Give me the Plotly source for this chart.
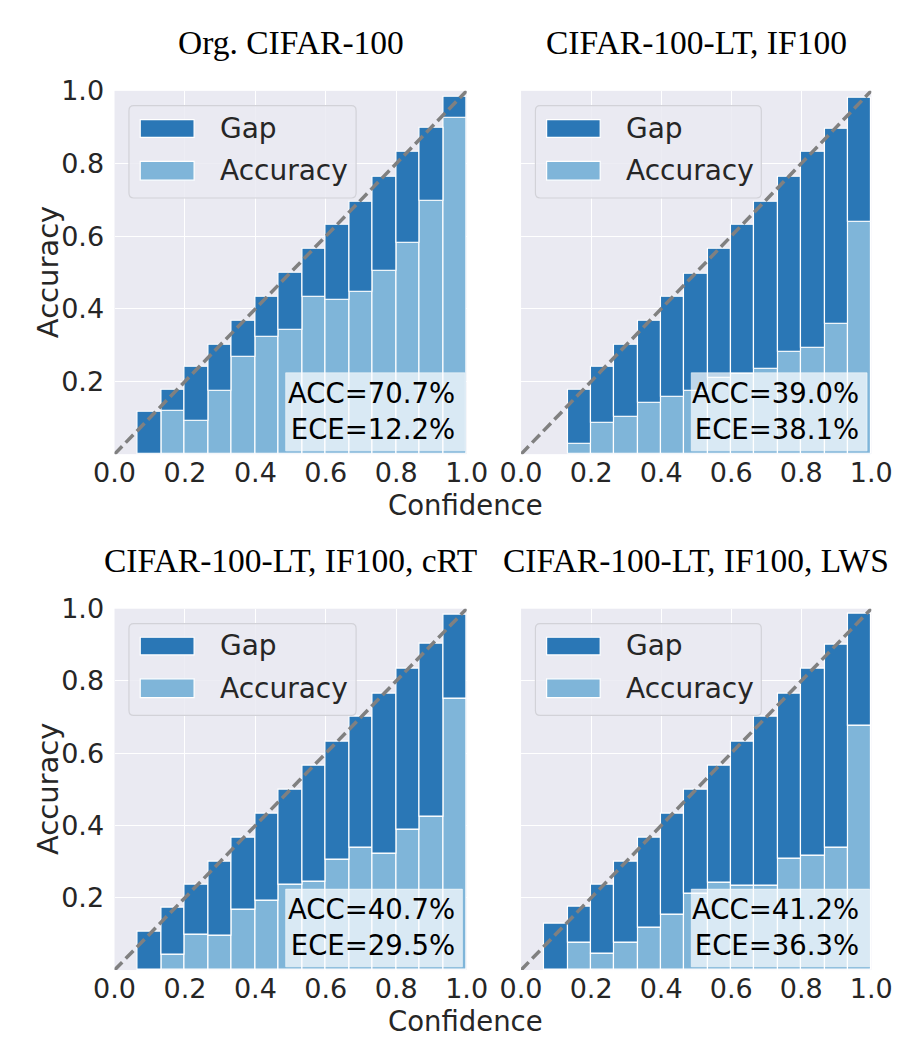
import plotly.graph_objects as go

# ---------------------------------------------------------------------------
# Reliability diagrams: 15 equal-width confidence bins per model
# ---------------------------------------------------------------------------
N_BINS = 15
bin_centers = [(i + 0.5) / N_BINS for i in range(N_BINS)]
bin_width = 1.0 / N_BINS

panel_titles = [
    "Org. CIFAR-100",
    "CIFAR-100-LT, IF100",
    "CIFAR-100-LT, IF100, cRT",
    "CIFAR-100-LT, IF100, LWS",
]

# Mean confidence per bin (None = empty bin)
conf_org = [None, 0.117, 0.176, 0.241, 0.302, 0.367, 0.432, 0.500, 0.565, 0.630, 0.695, 0.763, 0.831, 0.898, 0.984]
conf_lt = [None, None, 0.178, 0.240, 0.302, 0.367, 0.432, 0.496, 0.565, 0.630, 0.695, 0.763, 0.831, 0.896, 0.980]
conf_crt = [None, 0.107, 0.173, 0.235, 0.300, 0.365, 0.432, 0.500, 0.565, 0.631, 0.700, 0.765, 0.834, 0.903, 0.984]
conf_lws = [None, 0.129, 0.175, 0.235, 0.300, 0.365, 0.434, 0.500, 0.565, 0.631, 0.700, 0.765, 0.834, 0.900, 0.987]

# Accuracy per bin
acc_org = [None, 0.000, 0.119, 0.092, 0.174, 0.268, 0.322, 0.343, 0.432, 0.426, 0.448, 0.505, 0.581, 0.697, 0.927]
acc_lt = [None, None, 0.029, 0.086, 0.102, 0.142, 0.159, 0.174, 0.210, 0.220, 0.234, 0.281, 0.293, 0.358, 0.640]
acc_crt = [None, 0.000, 0.042, 0.098, 0.094, 0.166, 0.192, 0.236, 0.244, 0.305, 0.338, 0.323, 0.389, 0.425, 0.750]
acc_lws = [None, 0.000, 0.076, 0.046, 0.076, 0.116, 0.153, 0.212, 0.241, 0.233, 0.233, 0.307, 0.316, 0.338, 0.677]

# Overall accuracy and expected calibration error (%)
overall_acc = [70.7, 39.0, 40.7, 41.2]
overall_ece = [12.2, 38.1, 29.5, 36.3]

tick_vals = [0.0, 0.2, 0.4, 0.6, 0.8, 1.0]
tick_text = ["0.0", "0.2", "0.4", "0.6", "0.8", "1.0"]

confs = [conf_org, conf_lt, conf_crt, conf_lws]
accs = [acc_org, acc_lt, acc_crt, acc_lws]

# ---------------------------------------------------------------------------
# Styling
# ---------------------------------------------------------------------------
W, H = 919, 1037
GAP_COLOR = "#2a77b6"
ACC_COLOR = "#7fb5d9"
BG = "#EAEAF2"
TEXT = "#262626"
SANS = "DejaVu Sans"
SERIF = "Liberation Serif"

# Panel boxes in pixels: (left, right) per column, (top, bottom) per row
col_px = [(98, 467), (524, 891)]
row_px = [(76, 445), (602, 969)]


def px_x(p):
    return p / W


def px_y(p):
    return 1 - p / H


def rounded_rect(x0, y0, x1, y1, rad):
    """SVG path (paper coords) for a rounded rectangle given pixel corners."""
    X = px_x
    Y = px_y
    return (
        f"M{X(x0 + rad)},{Y(y0)} L{X(x1 - rad)},{Y(y0)} Q{X(x1)},{Y(y0)} {X(x1)},{Y(y0 + rad)} "
        f"L{X(x1)},{Y(y1 - rad)} Q{X(x1)},{Y(y1)} {X(x1 - rad)},{Y(y1)} "
        f"L{X(x0 + rad)},{Y(y1)} Q{X(x0)},{Y(y1)} {X(x0)},{Y(y1 - rad)} "
        f"L{X(x0)},{Y(y0 + rad)} Q{X(x0)},{Y(y0)} {X(x0 + rad)},{Y(y0)} Z"
    )


fig = go.Figure()
layout = dict(
    width=W,
    height=H,
    margin=dict(l=0, r=0, t=0, b=0),
    paper_bgcolor="white",
    plot_bgcolor=BG,
    barmode="overlay",
    bargap=0,
    showlegend=False,
    font=dict(family=SANS, color=TEXT),
)

shapes = []
annotations = []

for k in range(4):
    r, c = divmod(k, 2)
    sfx = "" if k == 0 else str(k + 1)
    xa, ya = "x" + sfx, "y" + sfx
    conf, acc = confs[k], accs[k]
    gap = [None if (cf is None or a is None) else cf - a for cf, a in zip(conf, acc)]

    fig.add_trace(go.Bar(
        x=bin_centers, y=acc, width=bin_width, name="Accuracy",
        marker=dict(color=ACC_COLOR, line=dict(color="white", width=1.2)),
        xaxis=xa, yaxis=ya, hoverinfo="skip",
    ))
    fig.add_trace(go.Bar(
        x=bin_centers, y=gap, base=acc, width=bin_width, name="Gap",
        marker=dict(color=GAP_COLOR, line=dict(color="white", width=1.2)),
        xaxis=xa, yaxis=ya, hoverinfo="skip",
    ))
    # perfect calibration diagonal
    fig.add_trace(go.Scatter(
        x=[0, 1], y=[0, 1], mode="lines",
        line=dict(color="#808080", width=3.5, dash="11px,5px"),
        xaxis=xa, yaxis=ya, hoverinfo="skip",
    ))

    (l, rgt), (top, bot) = col_px[c], row_px[r]
    axis_common = dict(
        range=[0, 1], showgrid=True, gridcolor="white", gridwidth=1.3,
        zeroline=False, showline=False,
        tickfont=dict(family=SANS, size=27, color=TEXT),
    )
    layout["xaxis" + sfx] = dict(
        axis_common, domain=[px_x(l), px_x(rgt)], anchor=ya,
        tickvals=tick_vals, ticktext=tick_text, ticks="",
    )
    layout["yaxis" + sfx] = dict(
        axis_common, domain=[px_y(bot), px_y(top)], anchor=xa,
        tickvals=tick_vals[1:], ticktext=tick_text[1:],
        showticklabels=(c == 0), ticks="outside", ticklen=4, tickcolor="rgba(0,0,0,0)",
    )

    xd, yd = xa + " domain", ya + " domain"
    pw, ph = rgt - l, bot - top

    # legend frame (rounded) and entries
    lx0, lx1 = l + 0.041 * pw, l + 0.686 * pw
    ly0, ly1 = bot - 0.959 * ph, bot - 0.705 * ph
    shapes.append(dict(type="path", xref="paper", yref="paper",
                       path=rounded_rect(lx0, ly0, lx1, ly1, 5),
                       fillcolor="rgba(234,234,242,0.85)", line=dict(color="#d2d2d8", width=1.2),
                       layer="above"))
    for color, y0, y1, label, ty in [(GAP_COLOR, 0.872, 0.921, "Gap", 0.897),
                                     (ACC_COLOR, 0.754, 0.806, "Accuracy", 0.780)]:
        shapes.append(dict(type="rect", xref=xd, yref=yd, x0=0.073, x1=0.226, y0=y0, y1=y1,
                           fillcolor=color, line=dict(color="white", width=1.2), layer="above"))
        annotations.append(dict(text=label, xref=xd, yref=yd, x=0.293, y=ty,
                                xanchor="left", yanchor="middle", showarrow=False,
                                font=dict(family=SANS, size=28, color=TEXT)))

    # ACC / ECE summary box
    box_x0 = 0.486
    box_x1 = 0.995 if k in (0, 3) else 0.988
    shapes.append(dict(type="rect", xref=xd, yref=yd, x0=box_x0, x1=box_x1, y0=0.009, y1=0.224,
                       fillcolor="rgba(255,255,255,0.7)", line=dict(color="rgba(255,255,255,0.5)", width=1),
                       layer="above"))
    annotations.append(dict(text=f"ACC={overall_acc[k]:.1f}%<br>ECE={overall_ece[k]:.1f}%",
                            xref=xd, yref=yd, x=0.972, y=0.119, align="right",
                            xanchor="right", yanchor="middle", showarrow=False,
                            font=dict(family=SANS, size=27.5, color="black")))

    # panel title
    annotations.append(dict(text=panel_titles[k], xref="paper", yref="paper",
                            x=px_x((l + rgt) / 2), y=px_y(top - 49), xanchor="center", yanchor="middle",
                            showarrow=False, font=dict(family=SERIF, size=33.5, color="black")))

# shared axis labels per row
for r, (top, bot) in enumerate(row_px):
    annotations.append(dict(text="Confidence", xref="paper", yref="paper",
                            x=px_x(466), y=px_y(bot + 52), xanchor="center", yanchor="middle",
                            showarrow=False, font=dict(family=SANS, size=27.5, color=TEXT)))
    annotations.append(dict(text="Accuracy", xref="paper", yref="paper", textangle=-90,
                            x=px_x(29), y=px_y((top + bot) / 2), xanchor="center", yanchor="middle",
                            showarrow=False, font=dict(family=SANS, size=29, color=TEXT)))

layout["shapes"] = shapes
layout["annotations"] = annotations
fig.update_layout(**layout)

fig.write_html("out.html")
